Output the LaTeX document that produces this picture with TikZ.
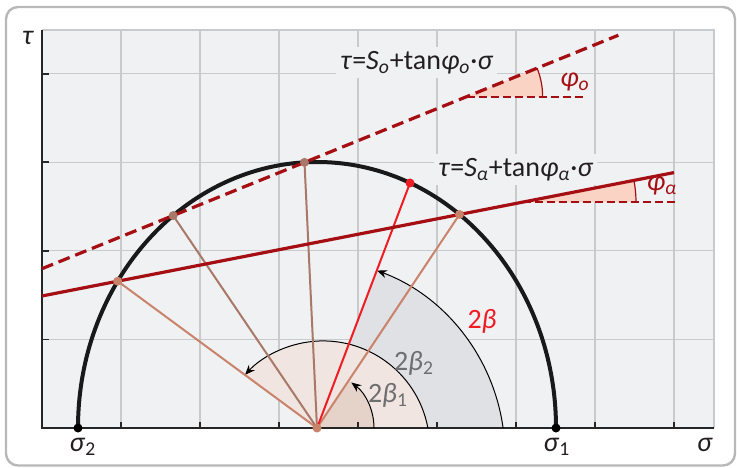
\documentclass[tikz,border=0pt]{standalone}
\usepackage{fontspec}
\setmainfont{Carlito}
\usetikzlibrary{calc,arrows.meta}
\definecolor{plotbg}{HTML}{F0F1F3}
\definecolor{gridc}{HTML}{C9CACC}
\definecolor{darkred}{HTML}{A50F14}
\definecolor{salmon}{HTML}{C9836B}
\definecolor{mauve}{HTML}{A97868}
\definecolor{brightred}{HTML}{EE1D23}
\definecolor{wedgec}{HTML}{FAD3C5}
\definecolor{sectgray}{HTML}{E0E1E4}
\definecolor{sectpink}{HTML}{F0E5E1}
\definecolor{sectdark}{HTML}{E5D3CA}
\definecolor{labgray}{HTML}{6E6E70}
\definecolor{framec}{HTML}{B8B8B8}
\definecolor{textc}{HTML}{231F20}
\newcommand{\mysub}[1]{\textsubscript{#1}}
\begin{document}
\begin{tikzpicture}[x=0.5pt,y=0.5pt,
  lab/.style={font=\fontsize{14}{16}\selectfont, text=textc, inner sep=0pt},
  eqlab/.style={lab, fill=plotbg, inner sep=2pt},
  gridline/.style={gridc, line width=0.6pt},
  axisline/.style={black!85, line width=0.9pt},
  strength/.style={darkred, line width=1.6pt},
  hdash/.style={darkred, line width=0.9pt, dash pattern=on 4pt off 2pt},
  spoke/.style={line width=1pt},
  arrowc/.style={black, line width=0.5pt, -{Stealth[length=5pt,width=4pt]}},
  dotr/.style={radius=4.5}
]
\useasboundingbox (0,0) rectangle (737,467);
% frame
\draw[framec, line width=1.2pt, rounded corners=6pt, fill=white] (6,1.5) rectangle (735,460);
% plot area
\fill[plotbg] (42,39) rectangle (714,437);
\foreach \x in {121,200,...,674} \draw[gridline] (\x,39) -- (\x,437);
\foreach \y in {127.6,216.2,304.8,393.4} \draw[gridline] (42,\y) -- (714,\y);
\draw[gridline] (42,437) -- (714,437) -- (714,39);

\coordinate (O) at (317,39);
% sectors
\fill[sectgray] (O) -- (503.1,39) arc[start angle=7.9, end angle=69.5, radius=197] -- cycle;
\fill[sectpink] (O) -- (427.9,39) arc[start angle=10.6, end angle=137, radius=106.7] -- cycle;
\fill[sectdark] (O) -- (374,39) arc[start angle=0, end angle=56.3, radius=57] -- cycle;

% axes and ticks
\draw[axisline] (42,437) -- (42,39) -- (714,39);
\foreach \y in {127.6,216.2,304.8,393.4} \draw[axisline] (42,\y) -- (49,\y);
\foreach \x in {121,200,...,674} \draw[axisline] (\x,39) -- (\x,45);

% angle arrows
\draw[arrowc] (503.1,39) arc[start angle=7.9, end angle=69.5, radius=197];
\draw[arrowc] (427.9,39) arc[start angle=10.6, end angle=137, radius=106.7];
\draw[arrowc] (374,39) arc[start angle=0, end angle=53, radius=57];

% Mohr circle
\coordinate (S2) at (78,39);
\coordinate (S1) at (556,39);
\draw[black!90, line width=2pt] (S2) arc[start angle=180, end angle=0, x radius=239, y radius=266];

\coordinate (C) at ($(O)+(146.5:239 and 266)$);
\coordinate (A) at ($(O)+(127:239 and 266)$);
\coordinate (B) at ($(O)+(93:239 and 266)$);
\coordinate (E) at ($(O)+(67.1:239 and 266)$);
\coordinate (D) at ($(O)+(53.4:239 and 266)$);

% spokes
\draw[spoke, salmon] (O) -- (C);
\draw[spoke, salmon] (O) -- (D);
\draw[spoke, mauve] (O) -- (A);
\draw[spoke, mauve] (O) -- (B);
\draw[spoke, brightred] (O) -- (E);

% friction angle wedges
\coordinate (Po) at ($(A)!2.2346!(B)$);
\coordinate (Pa) at ($(C)!1.1858!(D)$);
\fill[wedgec] (Po) -- ++(76,0) arc[start angle=0, end angle=22.06, radius=76] -- cycle;
\fill[wedgec] (Pa) -- ++(113,0) arc[start angle=0, end angle=11.06, radius=113] -- cycle;
\draw[darkred, line width=0.6pt] ($(Po)+(76,0)$) arc[start angle=0, end angle=22.06, radius=76];
\draw[darkred, line width=0.6pt] ($(Pa)+(113,0)$) arc[start angle=0, end angle=11.06, radius=113];
\draw[hdash] (Po) -- ++(117,0);
\draw[hdash] (Pa) -- ++(152,0);

% strength lines
\draw[strength, dash pattern=on 6pt off 3pt] ($(A)!-1!(B)$) -- ($(A)!3.39!(B)$);
\draw[strength] ($(C)!-0.2215!(D)$) -- ($(C)!1.6276!(D)$);

% dots
\fill[salmon] (C) circle[dotr];
\fill[salmon] (D) circle[dotr];
\fill[mauve] (A) circle[dotr];
\fill[mauve] (B) circle[dotr];
\fill[brightred] (E) circle[dotr];
\fill[salmon] (O) circle[dotr];
\fill[black] (S2) circle[radius=4.5];
\fill[black] (S1) circle[radius=4.5];

% labels
\node[lab] (tau) at (28,429) {\textit{τ}};
\node[lab] (sig) at (705,22) {\textit{σ}};
\node[lab] (sig1) at (557,20) {\textit{σ}\mysub{1}};
\node[lab] (sig2) at (83,20) {\textit{σ}\mysub{2}};
\node[eqlab, anchor=base west] (eqo) at (336,398) {\textit{τ}=\textit{S}\mysub{\textit{o}}+tan\textit{φ}\mysub{\textit{o}}·\textit{σ}};
\node[eqlab, anchor=base west] (eqa) at (434,291) {\textit{τ}=\textit{S}\mysub{\textit{α}}+tan\textit{φ}\mysub{\textit{α}}·\textit{σ}};
\node[lab, text=darkred] (phio) at (575,385) {\textit{φ}\mysub{\textit{o}}};
\node[lab, text=darkred] (phia) at (662,281) {\textit{φ}\mysub{\textit{α}}};
\node[lab, text=brightred] (b) at (482,146) {2\textit{β}};
\node[lab, text=labgray] (b2) at (414,104) {2\textit{β}\mysub{2}};
\node[lab, text=labgray] (b1) at (388,72) {2\textit{β}\mysub{1}};
\end{tikzpicture}
\end{document}
